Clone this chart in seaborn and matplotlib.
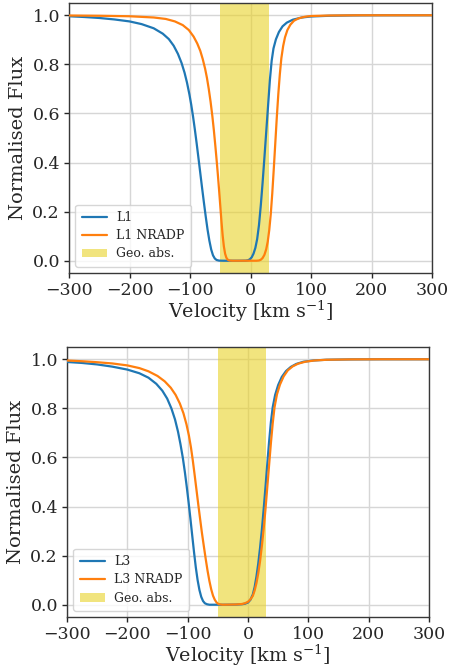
import numpy as np
import pandas as pd
import matplotlib
matplotlib.use("Agg")
import matplotlib.pyplot as plt
import seaborn as sns

# ---- line profiles (velocity in km/s, normalised flux) ----
l1_v = [-300, -275, -250, -225, -200, -180, -160, -145, -135, -127, -120, -114,
        -109, -105, -101, -98, -95, -92, -89, -86, -83, -80, -77, -74, -71,
        -68, -65, -62, -59, -56, -52, -45, -20, -8, -4, -1, 2, 5, 8, 11, 14,
        17, 20, 23, 26, 29, 32, 35, 38, 42, 47, 53, 60, 70, 85, 100, 130, 170,
        220, 300]
l1_f = [0.996, 0.993, 0.989, 0.983, 0.975, 0.964, 0.947, 0.925, 0.903, 0.876,
        0.843, 0.806, 0.766, 0.726, 0.678, 0.636, 0.588, 0.535, 0.478, 0.418,
        0.357, 0.296, 0.237, 0.180, 0.127, 0.082, 0.046, 0.022, 0.009, 0.003,
        0.0005, 0.0, 0.0, 0.0005, 0.002, 0.006, 0.014, 0.029, 0.052, 0.088,
        0.145, 0.225, 0.318, 0.420, 0.525, 0.630, 0.735, 0.815, 0.865, 0.902,
        0.932, 0.955, 0.970, 0.982, 0.991, 0.995, 0.998, 0.9995, 1.0, 1.0]

l1n_v = [-300, -250, -200, -160, -140, -125, -112, -102, -94, -88, -83, -79,
         -75, -72, -69, -66, -63, -60.5, -58, -56, -54, -52, -50, -48, -46,
         -44, -42, -40, -38, -35, -30, 10, 14, 17, 20, 23, 26, 28.5, 31, 33.5,
         36, 38.5, 41, 43.5, 46, 48.5, 51, 54, 57, 61, 66, 72, 80, 90, 100,
         130, 180, 300]
l1n_f = [0.999, 0.998, 0.996, 0.991, 0.985, 0.975, 0.960, 0.940, 0.913, 0.885,
         0.855, 0.822, 0.782, 0.745, 0.700, 0.648, 0.588, 0.530, 0.465, 0.410,
         0.352, 0.290, 0.225, 0.160, 0.102, 0.058, 0.029, 0.013, 0.005, 0.001,
         0.0, 0.0, 0.001, 0.004, 0.011, 0.024, 0.047, 0.078, 0.125, 0.19, 0.275,
         0.375, 0.48, 0.585, 0.68, 0.76, 0.825, 0.875, 0.91, 0.94, 0.962, 0.978,
         0.988, 0.994, 0.997, 0.999, 1.0, 1.0]

l3_v = [-300, -275, -250, -225, -200, -180, -165, -152, -142, -134, -127, -121,
        -116, -112, -108, -104.5, -101.5, -98.5, -95.5, -92.5, -89.5, -86.5,
        -83.5, -80.5, -77.5, -74.5, -71.5, -68, -64, -40, -20, -10, -5, 0, 4,
        8, 11, 14, 17, 20, 23, 26, 29, 32, 35, 38, 41, 45, 50, 56, 63, 71, 80,
        92, 108, 130, 170, 220, 300]
l3_f = [0.989, 0.985, 0.979, 0.970, 0.958, 0.943, 0.925, 0.900, 0.872, 0.840,
        0.800, 0.755, 0.705, 0.655, 0.598, 0.538, 0.480, 0.418, 0.352, 0.283,
        0.215, 0.152, 0.100, 0.060, 0.032, 0.015, 0.006, 0.002, 0.0, 0.0,
        0.0005, 0.002, 0.004, 0.009, 0.020, 0.042, 0.072, 0.115, 0.168, 0.232,
        0.305, 0.39, 0.48, 0.575, 0.665, 0.745, 0.805, 0.855, 0.895, 0.928,
        0.952, 0.969, 0.981, 0.990, 0.995, 0.998, 0.9995, 1.0, 1.0]

l3n_v = [-300, -275, -250, -225, -200, -180, -165, -150, -138, -128, -120, -113,
         -107, -102, -98, -94.5, -91.5, -88.5, -85.5, -82.5, -79.5, -76.5, -73,
         -70, -67, -64, -61, -58, -55, -52, -49, -45.5, -42, -20, -10, -5, 0,
         4, 8, 11, 14, 17, 20, 23, 26, 29, 32, 35, 38, 41, 44, 48, 53, 59, 66,
         74, 83, 95, 110, 130, 170, 220, 300]
l3n_f = [0.995, 0.992, 0.988, 0.983, 0.975, 0.964, 0.951, 0.932, 0.910, 0.884,
         0.855, 0.820, 0.780, 0.735, 0.690, 0.640, 0.588, 0.530, 0.470, 0.410,
         0.352, 0.295, 0.235, 0.185, 0.138, 0.097, 0.063, 0.037, 0.020, 0.009,
         0.003, 0.001, 0.0, 0.001, 0.003, 0.006, 0.012, 0.022, 0.036, 0.058,
         0.088, 0.128, 0.178, 0.24, 0.31, 0.39, 0.48, 0.57, 0.66, 0.74, 0.805,
         0.857, 0.897, 0.93, 0.955, 0.971, 0.982, 0.99, 0.995, 0.998, 0.9995,
         1.0, 1.0]

# geometric absorption window
geo_lo, geo_hi = -50, 30

xticks = [-300, -200, -100, 0, 100, 200, 300]
yticks = [0.0, 0.2, 0.4, 0.6, 0.8, 1.0]

sns.set_theme(style="whitegrid", rc={
    "axes.edgecolor": "0.22",
    "axes.linewidth": 1.0,
    "grid.color": "0.84",
    "grid.linewidth": 1.0,
    "xtick.bottom": True,
    "ytick.left": True,
    "xtick.major.size": 3.5,
    "ytick.major.size": 3.5,
    "xtick.color": "0.15",
    "ytick.color": "0.15",
    "xtick.major.width": 1.0,
    "ytick.major.width": 1.0,
})
plt.rcParams["font.family"] = ["DejaVu Serif"]
plt.rcParams["mathtext.fontset"] = "dejavuserif"

BLUE = "#1f77b4"
ORANGE = "#ff7f0e"
GEO = "#e9d228"

fig = plt.figure(figsize=(4.49, 6.71), dpi=100)
ax_top = fig.add_axes([69 / 449, 398 / 671, 363 / 449, 270 / 671])
ax_bot = fig.add_axes([67 / 449, 54 / 671, 362 / 449, 270 / 671])


def draw_panel(ax, v_a, f_a, name_a, v_b, f_b, name_b):
    ax.axvspan(geo_lo, geo_hi, color=GEO, alpha=0.6, lw=0,
               label="Geo. abs.", zorder=1.5)
    df_a = pd.DataFrame({"v": v_a, "f": f_a})
    df_b = pd.DataFrame({"v": v_b, "f": f_b})
    sns.lineplot(data=df_a, x="v", y="f", ax=ax, color=BLUE, lw=1.6,
                 label=name_a, sort=False, estimator=None, zorder=3)
    sns.lineplot(data=df_b, x="v", y="f", ax=ax, color=ORANGE, lw=1.6,
                 label=name_b, sort=False, estimator=None, zorder=3)
    ax.set_xlim(-300, 300)
    ax.set_ylim(-0.05, 1.05)
    ax.set_xticks(xticks)
    ax.set_yticks(yticks)
    ax.tick_params(labelsize=12.5, pad=3)
    ax.set_xlabel(r"Velocity [km s$^{-1}$]", fontsize=13.8, labelpad=0)
    ax.set_ylabel("Normalised Flux", fontsize=14, labelpad=4)
    for s in ax.spines.values():
        s.set_visible(True)
    handles, labels = ax.get_legend_handles_labels()
    order = [labels.index(name_a), labels.index(name_b), labels.index("Geo. abs.")]
    ax.legend([handles[i] for i in order], [labels[i] for i in order],
              loc="lower left", fontsize=9, frameon=True, framealpha=0.8,
              borderpad=0.5, labelspacing=0.42, handlelength=2.0)


draw_panel(ax_top, l1_v, l1_f, "L1", l1n_v, l1n_f, "L1 NRADP")
draw_panel(ax_bot, l3_v, l3_f, "L3", l3n_v, l3n_f, "L3 NRADP")

fig.savefig("out.png", dpi=100)
